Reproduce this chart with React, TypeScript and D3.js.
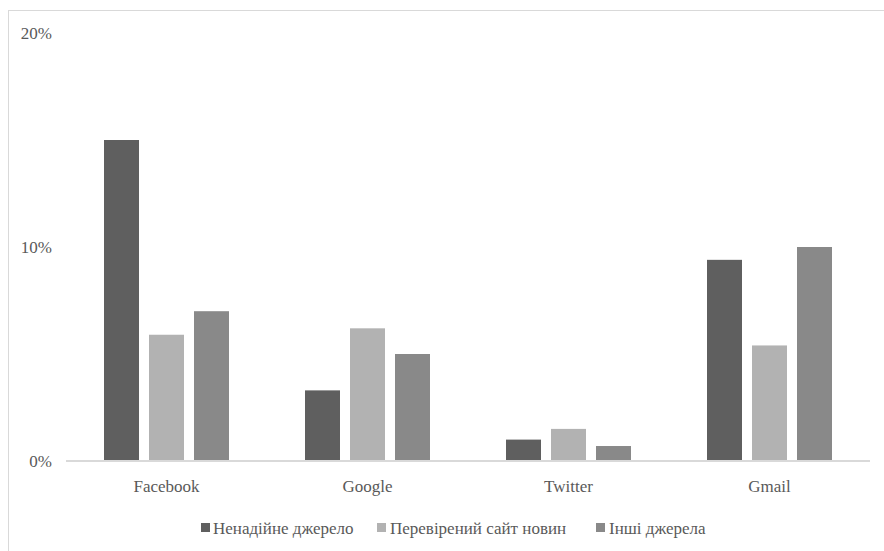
import React from "react";
import * as d3 from "d3";

const categories = ["Facebook", "Google", "Twitter", "Gmail"];
const seriesNames = ["Ненадійне джерело", "Перевірений сайт новин", "Інші джерела"];
const unreliable = [0.15, 0.033, 0.01, 0.094];
const verified = [0.059, 0.062, 0.015, 0.054];
const others = [0.07, 0.05, 0.007, 0.1];
const yTicks = [0, 0.1, 0.2];
const colors = ["#5f5f5f", "#b2b2b2", "#898989"];

const seriesValues = [unreliable, verified, others];

export default function App() {
  const W = 884;
  const H = 551;
  const x0 = d3.scaleBand<string>().domain(categories).range([66, 870]).padding(0);
  const x1 = d3
    .scaleBand<string>()
    .domain(seriesNames)
    .range([0, 125])
    .paddingInner(10 / 45)
    .paddingOuter(0);
  const groupOffset = (x0.bandwidth() - 125) / 2;
  const y = d3.scaleLinear().domain([0, 0.2]).range([461, 33]);
  const fmt = d3.format(".0%");
  const textStyle: React.CSSProperties = {
    fontFamily: '"Liberation Serif", "Times New Roman", "DejaVu Serif", serif',
    fontSize: "17px",
  };

  const legendItems = [
    { sx: 201, tx: 213 },
    { sx: 377, tx: 390 },
    { sx: 596, tx: 609 },
  ];

  return (
    <svg
      width={W}
      height={H}
      style={{ position: "absolute", left: 0, top: 0, background: "#fff" }}
    >
      <rect x={8.5} y={10.5} width={W + 20} height={H + 20} fill="#fff" stroke="#d9d9d9" strokeWidth={1} />
      {categories.map((c, ci) =>
        seriesNames.map((s, si) => {
          const v = seriesValues[si][ci];
          const bx = (x0(c) ?? 0) + groupOffset + (x1(s) ?? 0);
          return (
            <rect
              key={c + s}
              x={bx}
              y={y(v)}
              width={x1.bandwidth()}
              height={y(0) - y(v)}
              fill={colors[si]}
            />
          );
        })
      )}
      <line x1={66} x2={870} y1={y(0)} y2={y(0)} stroke="#d9d9d9" strokeWidth={2} />
      {yTicks.map((t) => (
        <text
          key={t}
          x={52}
          y={y(t)}
          textAnchor="end"
          dominantBaseline="central"
          style={textStyle}
          fill="#595959"
        >
          {fmt(t)}
        </text>
      ))}
      {categories.map((c) => (
        <text
          key={c}
          x={(x0(c) ?? 0) + x0.bandwidth() / 2}
          y={486}
          textAnchor="middle"
          dominantBaseline="central"
          style={textStyle}
          fill="#595959"
        >
          {c}
        </text>
      ))}
      {seriesNames.map((s, i) => (
        <g key={s}>
          <rect x={legendItems[i].sx} y={523} width={9} height={9} fill={colors[i]} />
          <text
            x={legendItems[i].tx}
            y={528}
            dominantBaseline="central"
            style={textStyle}
            fill="#595959"
          >
            {s}
          </text>
        </g>
      ))}
    </svg>
  );
}
